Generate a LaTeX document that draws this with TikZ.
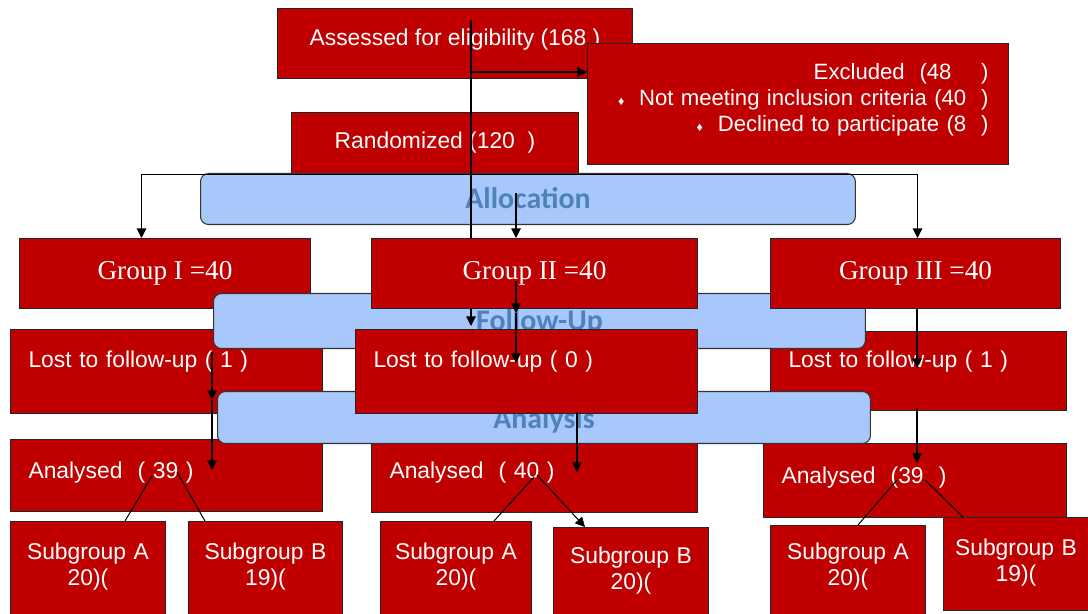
\documentclass[tikz,border=0pt]{standalone}
\usepackage{fontspec}
\setmainfont{Liberation Sans}
\newfontfamily\grpfont{Liberation Serif}
\newfontfamily\calfont{Carlito}
\usepackage{xcolor}
\usetikzlibrary{arrows.meta}
\definecolor{boxred}{RGB}{192,0,0}
\definecolor{boxblue}{RGB}{168,199,250}
\definecolor{bandtext}{RGB}{79,129,189}

\begin{document}
\begin{tikzpicture}[x=0.02cm, y=-0.02cm,
  redbox/.style={draw=black!85, fill=boxred, text=white, line width=0.6pt, anchor=north west, inner ysep=0pt, font=\fontsize{13}{14.8}\selectfont},
  grpbox/.style={redbox, minimum height=1.4cm, font=\grpfont\fontsize{15.5}{18}\selectfont},
  lostbox/.style={redbox, inner xsep=0.36cm, align=left},
  subbox/.style={redbox, inner xsep=0.1cm, align=center, text depth=1.62cm},
  band/.style={draw=black!80, fill=boxblue, line width=0.6pt, rounded corners=0.16cm, anchor=north west, inner ysep=0pt, text=bandtext, font=\calfont\bfseries\fontsize{17}{18}\selectfont},
  flow/.style={line width=0.6pt, -{Triangle[width=5.5pt,length=5.5pt]}},
  split/.style={line width=0.6pt}]
\useasboundingbox (0,0) rectangle (1088,614);
\clip (0,0) rectangle (1088,614);

% enrolment
\node[redbox, minimum width=7.1cm, text height=0.74cm, text depth=0.66cm] (assess) at (277,8) {Assessed for eligibility (168 )};
\node[redbox, text width=7.62cm, inner xsep=0.4cm, align=right, text height=0.72cm, text depth=1.7cm, font=\fontsize{12.6}{14.8}\selectfont] (excl) at (587,43)
  {Excluded\ \ (48\ \ \ \ )\\ {\fontsize{7}{7}\selectfont ♦}\ \ Not meeting inclusion criteria (40\ \ )\\ {\fontsize{7}{7}\selectfont ♦}\ \ Declined to participate (8\ \ )};
\coordinate (asmid) at (471,72);
\draw[flow] (asmid) -- (asmid -| excl.west);
\node[redbox, minimum width=5.74cm, text height=0.72cm, text depth=0.5cm] (rand) at (291,112) {Randomized (120\ \ )};
\node[band, minimum width=13.1cm, text height=0.7cm, text depth=0.32cm] (alloc) at (200,173) {Allocation};

% groups and follow-up
\node[grpbox, minimum width=5.82cm] (g1) at (19,238) {Group I =40};
\node[lostbox, text width=5.52cm, text height=0.76cm, text depth=0.92cm] (lost1) at (10,329) {Lost to follow-up ( 1 )};
\node[lostbox, text width=5.2cm, text height=0.72cm, text depth=0.86cm] (lost3) at (770,331) {Lost to follow-up ( 1 )};
\node[band, minimum width=13.04cm, text height=0.74cm, text depth=0.36cm] (fu) at (213,293) {Follow-Up};
\coordinate (astop) at (471,20);
\coordinate (fuin) at (471,326);
\draw[flow] (astop) -- (fuin);
\node[grpbox, minimum width=6.52cm] (g2) at (371,238) {Group II =40};
\node[grpbox, minimum width=5.8cm] (g3) at (770,238) {Group III =40};
\draw[flow] (rand.south) -| ([xshift=-0.47cm]g1.north);
\draw[flow] (rand.south) -| ([xshift=0.04cm]g3.north);
\coordinate (alin) at (516,193);
\draw[flow] (alin) -- (alin |- g2.north);

% analysis
\node[lostbox, text width=5.52cm, text height=0.78cm, text depth=0.66cm] (an1) at (10,439) {Analysed\ \ ( 39 )};
\node[lostbox, text width=5.8cm, text height=0.74cm, text depth=0.68cm] (an2) at (371,441) {Analysed\ \ ( 40 )};
\node[lostbox, text width=5.34cm, text height=0.8cm, text depth=0.68cm] (an3) at (763,443) {Analysed\ \ (39\ \ )};
\node[band, minimum width=13.06cm, text height=0.74cm, text depth=0.3cm] (analysis) at (217,391) {Analysis};
\node[lostbox, text width=6.12cm, text height=0.76cm, text depth=0.92cm] (lost2) at (355,329) {Lost to follow-up ( 0 )};

% subgroups
\node[subbox, text width=2.9cm, text height=0.76cm] (sa1) at (10,521) {Subgroup A\\20)(};
\node[subbox, text width=2.88cm, text height=0.76cm] (sb1) at (188,521) {Subgroup B\\19)(};
\node[subbox, text width=2.82cm, text height=0.76cm] (sa2) at (380,521) {Subgroup A\\20)(};
\node[subbox, text width=2.9cm, text height=0.72cm] (sb2) at (553,527) {Subgroup B\\20)(};
\node[subbox, text width=2.9cm, text height=0.68cm] (sa3) at (770,525) {Subgroup A\\20)(};
\node[subbox, text width=2.7cm, text height=0.76cm, text depth=1.1cm] (sb3) at (943,517) {Subgroup B\\19)(};

% arrows down the columns
\coordinate (g2a) at (516,281);
\coordinate (g2b) at (516,313);
\coordinate (g2c) at (516,363);
\draw[flow] (g2a) -- (g2b);
\draw[flow] (g2b) -- (g2c);
\coordinate (l1a) at (212,352);
\coordinate (l1b) at (212,400);
\coordinate (l1c) at (212,470);
\draw[flow] (l1a) -- (l1b);
\draw[flow] (l1b) -- (l1c);
\coordinate (l2a) at (577,412);
\coordinate (l2b) at (577,472);
\draw[flow] (l2a) -- (l2b);
\coordinate (l3a) at (917,368);
\coordinate (l3b) at (917,408);
\coordinate (l3c) at (917,463);
\draw[flow] (g3.south -| l3a) -- (l3a);
\draw[flow] (l3b) -- (l3c);

% splits into subgroups
\coordinate (an1l) at (152,476);
\coordinate (an1r) at (177,472);
\coordinate (an2l) at (534,477);
\coordinate (an2r) at (537,475);
\coordinate (an3l) at (897,480);
\coordinate (an3r) at (925,480);
\draw[split] (an1l) -- ([xshift=2.3cm]sa1.north west);
\draw[split] (an1r) -- ([xshift=0.34cm]sb1.north west);
\draw[split] (an2l) -- ([xshift=2.28cm]sa2.north west);
\draw[flow] (an2r) -- ([xshift=0.64cm]sb2.north west);
\draw[split] (an3l) -- ([xshift=1.76cm]sa3.north west);
\draw[split] (an3r) -- ([xshift=0.4cm]sb3.north west);
\end{tikzpicture}
\end{document}
